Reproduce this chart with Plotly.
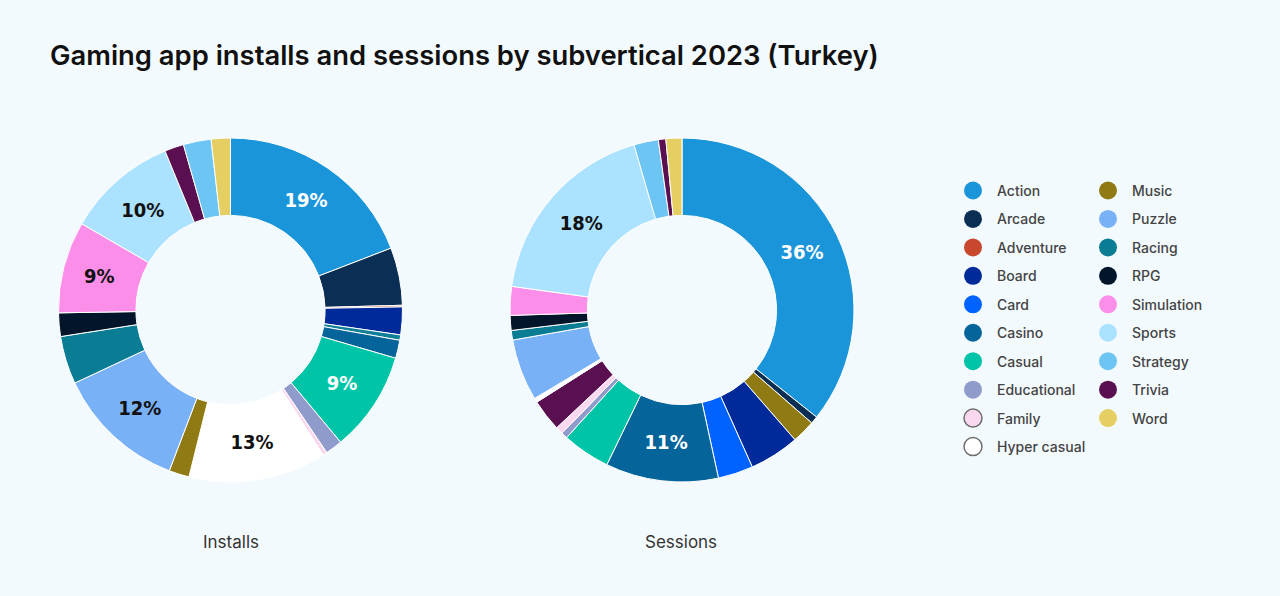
import plotly.graph_objects as go

# ---------------- data ----------------
legend_col1 = ["Action", "Arcade", "Adventure", "Board", "Card", "Casino", "Casual",
               "Educational", "Family", "Hyper casual"]
legend_col2 = ["Music", "Puzzle", "Racing", "RPG", "Simulation", "Sports", "Strategy",
               "Trivia", "Word"]
legend_colors = {
    "Action": "#1B95D9", "Arcade": "#0B2E55", "Adventure": "#C8472D", "Board": "#00299A",
    "Card": "#0062FF", "Casino": "#05659A", "Casual": "#00C4A7", "Educational": "#8E9BCB",
    "Family": "#F9D8F0", "Hyper casual": "#FFFFFF", "Music": "#8F7A14", "Puzzle": "#79B1F7",
    "Racing": "#0A7C94", "RPG": "#03152A", "Simulation": "#FB8EE8", "Sports": "#ABE2FF",
    "Strategy": "#6CC5F2", "Trivia": "#5A1050", "Word": "#E5CF62",
}

installs_labels = ["Action", "Arcade", "Adventure", "Board", "Card", "Casino", "Casual",
                   "Educational", "Family", "Hyper casual", "Music", "Puzzle", "Racing",
                   "RPG", "Simulation", "Sports", "Trivia", "Strategy", "Word"]
installs_values = [19.1, 5.4, 0.15, 2.6, 0.5, 1.7, 9.4, 1.6, 0.4, 12.9, 1.9, 12.2, 4.5,
                   2.2, 8.6, 10.4, 1.8, 2.6, 1.8]
installs_colors = ["#1B95D9", "#0B2E55", "#C8472D", "#00299A", "#127F99", "#05659A",
                   "#00C4A7", "#8E9BCB", "#F9D8F0", "#FFFFFF", "#8F7A14", "#79B1F7",
                   "#0A7C94", "#03152A", "#FB8EE8", "#ABE2FF", "#5A1050", "#6CC5F2",
                   "#E5CF62"]

sessions_labels = ["Action", "Arcade", "Music", "Board", "Card", "Casino", "Casual",
                   "Educational", "Family", "Trivia", "Hyper casual", "Puzzle", "Racing",
                   "RPG", "Simulation", "Sports", "Strategy", "Adventure", "Word"]
sessions_values = [35.7, 0.7, 2.2, 4.7, 3.3, 10.6, 4.5, 0.6, 0.7, 3.0, 0.4, 5.8, 0.9,
                   1.4, 2.7, 18.3, 2.3, 0.7, 1.5]
sessions_colors = ["#1B95D9", "#0B2E55", "#8F7A14", "#00299A", "#0062FF", "#05659A",
                   "#00C4A7", "#8E9BCB", "#F9D8F0", "#5A1050", "#FFFFFF", "#79B1F7",
                   "#0A7C94", "#03152A", "#FB8EE8", "#ABE2FF", "#6CC5F2", "#5A1050",
                   "#E5CF62"]

dark_text = {"Action", "Casual", "Casino"}
label_threshold = 8.0

W, H = 1280, 596
BG = "#F3FAFD"
UI_FONT = "Inter, Noto Sans, sans-serif"


def pct_text(labels, values):
    tot = sum(values)
    out, cols = [], []
    for lab, v in zip(labels, values):
        p = v / tot * 100
        out.append(f"{round(p):d}%" if p >= label_threshold else "")
        cols.append("#FFFFFF" if lab in dark_text else "#111111")
    return out, cols


fig = go.Figure()

for labels, values, colors, cx in [
    (installs_labels, installs_values, installs_colors, 230.5),
    (sessions_labels, sessions_values, sessions_colors, 682.0),
]:
    txt, tcol = pct_text(labels, values)
    r = 172
    cy = 310
    fig.add_trace(go.Pie(
        labels=labels, values=values, sort=False, direction="clockwise", rotation=0,
        hole=0.55,
        marker=dict(colors=colors, line=dict(color="#FFFFFF", width=1)),
        text=txt, textinfo="text", textposition="inside",
        insidetextorientation="horizontal",
        textfont=dict(family="DejaVu Sans Condensed, Liberation Sans Narrow, sans-serif",
                      size=20, color=tcol, weight="bold"),
        domain=dict(x=[(cx - r) / W, (cx + r) / W], y=[(H - cy - r) / H, (H - cy + r) / H]),
        showlegend=False, hoverinfo="label+percent",
    ))

annotations = [
    dict(text="Installs", x=231 / W, y=1 - 542 / H, xref="paper", yref="paper",
         xanchor="center", yanchor="middle", showarrow=False,
         font=dict(family=UI_FONT, size=17, color="#333333")),
    dict(text="Sessions", x=681 / W, y=1 - 542 / H, xref="paper", yref="paper",
         xanchor="center", yanchor="middle", showarrow=False,
         font=dict(family=UI_FONT, size=17, color="#333333")),
]
shapes = []

row_y0, row_dy = 190.5, 28.45
for col_names, cxp, tx in [(legend_col1, 973, 995), (legend_col2, 1108, 1130)]:
    for i, name in enumerate(col_names):
        y = row_y0 + i * row_dy
        outline = name in ("Family", "Hyper casual")
        shapes.append(dict(
            type="circle", xref="paper", yref="paper", xsizemode="pixel", ysizemode="pixel",
            xanchor=cxp / W, yanchor=1 - y / H, x0=-9, x1=9, y0=-9, y1=9,
            fillcolor=legend_colors[name],
            line=dict(color="#6E6E6E" if outline else legend_colors[name],
                      width=1.5 if outline else 0),
        ))
        annotations.append(dict(
            text=name, x=tx / W, y=1 - y / H, xref="paper", yref="paper",
            xanchor="left", yanchor="middle", showarrow=False,
            font=dict(family=UI_FONT, size=14, color="#444444", weight=500),
        ))

fig.update_layout(
    width=W, height=H,
    paper_bgcolor=BG, plot_bgcolor=BG,
    margin=dict(l=0, r=0, t=0, b=0),
    title=dict(text="Gaming app installs and sessions by subvertical 2023 (Turkey)",
               x=50 / W, xanchor="left", xref="paper", y=1 - 55 / H, yanchor="middle",
               yref="container",
               font=dict(family=UI_FONT, size=27.4, color="#111111", weight=600)),
    annotations=annotations, shapes=shapes,
)

fig.write_html("out.html", config={"displayModeBar": False},
               post_script="document.body.style.margin='0px';")
